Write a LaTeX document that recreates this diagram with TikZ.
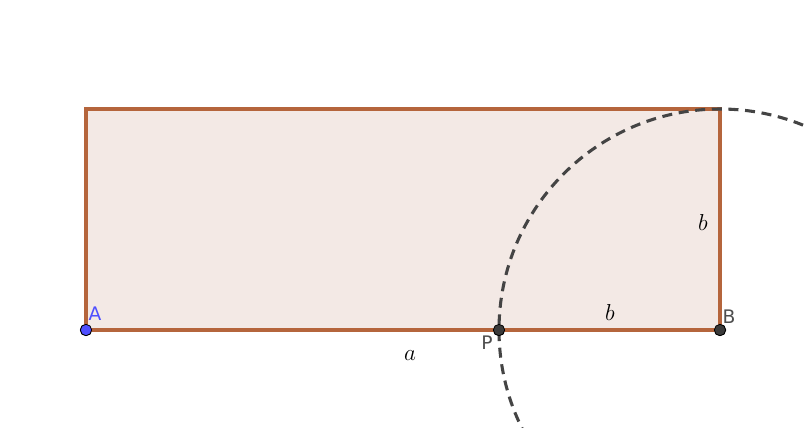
\documentclass[tikz,border=0pt]{standalone}
\usepackage{fontspec}
\newfontfamily\lblfont{DejaVu Sans}
\definecolor{rectedge}{HTML}{B5653C}
\definecolor{rectfill}{HTML}{F3E9E5}
\definecolor{arcgray}{HTML}{444444}
\definecolor{ptblue}{HTML}{4F4FFF}
\definecolor{ptgray}{HTML}{3A3A3A}
\begin{document}
\begin{tikzpicture}[
    x=0.75pt, y=-0.75pt,
    side/.style={draw=rectedge, fill=rectfill, line width=2.4pt},
    arcline/.style={draw=arcgray, line width=2.3pt, dash pattern=on 7.5pt off 5pt},
    pt/.style={circle, draw=black, line width=0.6pt, inner sep=0pt, minimum size=8.5pt},
    ptname/.style={font=\fontsize{14}{16}\lblfont, inner sep=1pt},
    len/.style={font=\fontsize{16}{18}\selectfont, inner sep=1pt}
]
    \useasboundingbox (0,0) rectangle (804,428);
    \coordinate (ul) at (86,109);
    \coordinate (ur) at (720,109);

    \node[pt, fill=ptblue] (A) at (86,330) {};
    \node[pt, fill=ptgray] (P) at (499,330) {};
    \node[pt, fill=ptgray] (B) at (720,330) {};

    \filldraw[side] (A.center) -- (ul) -- (ur) -- (B.center) -- cycle;

    \begin{scope}
        \clip (0,0) rectangle (804,428);
        \draw[arcline] (B.center) circle[radius=221];
    \end{scope}

    \node[pt, fill=ptblue] at (A) {};
    \node[pt, fill=ptgray] at (P) {};
    \node[pt, fill=ptgray] at (B) {};

    \node[ptname, text=ptblue] (labA) at (95,314) {A};
    \node[ptname, text=ptgray!90] (labP) at (487,343) {P};
    \node[ptname, text=ptgray!90] (labB) at (729,317) {B};

    \node[len] (la) at (410,356) {$a$};
    \node[len] (lb1) at (610,312) {$b$};
    \node[len] (lb2) at (703,222) {$b$};
\end{tikzpicture}
\end{document}
